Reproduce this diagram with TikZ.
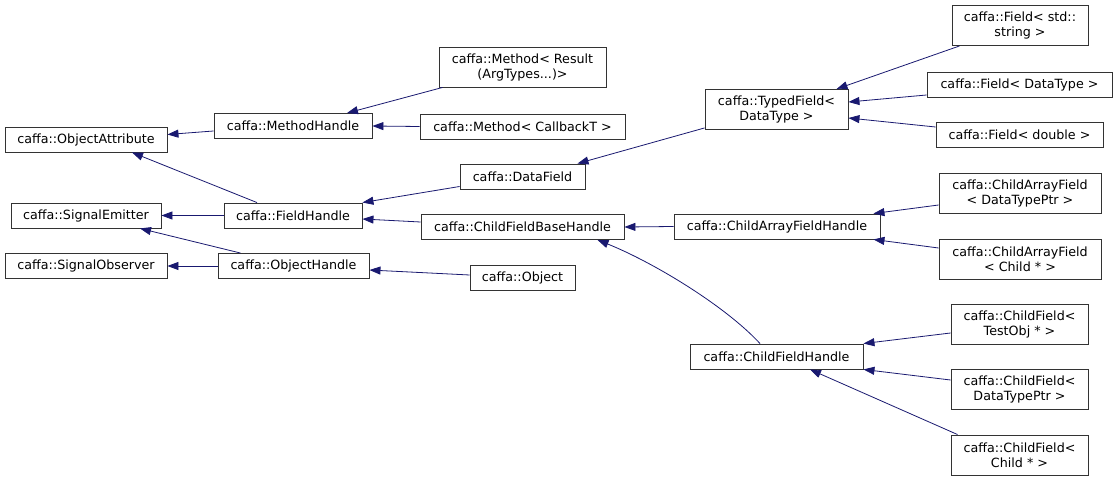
\documentclass[tikz,border=0pt]{standalone}
\usepackage{fontspec}
\setmainfont{DejaVu Sans}
\usetikzlibrary{arrows.meta}
\definecolor{navy}{HTML}{191970}

\begin{document}
\begin{tikzpicture}[x=1pt,y=-1pt,
  cls/.style={draw=black!80, line width=0.9pt, fill=white, inner sep=0pt,
    minimum height=25pt, align=center, font=\fontsize{12.7}{15}\selectfont},
  two/.style={minimum height=40pt},
  inh/.style={draw=navy, line width=0.8pt, {Triangle[length=11pt,width=8pt,fill=navy]}-}]
\useasboundingbox[fill=white] (0,0) rectangle (1117,481);

% first column
\node[cls, minimum width=162pt] (oa) at (86,139.5) {caffa::ObjectAttribute};
\node[cls, minimum width=150pt] (se) at (86,215.5) {caffa::SignalEmitter};
\node[cls, minimum width=162pt] (so) at (86,266) {caffa::SignalObserver};

% second column
\node[cls, minimum width=158pt] (mh) at (293,126) {caffa::MethodHandle};
\node[cls, minimum width=138pt] (fh) at (293,215.5) {caffa::FieldHandle};
\node[cls, minimum width=151pt] (oh) at (293.5,266) {caffa::ObjectHandle};

% third column
\node[cls, two, minimum width=167pt] (mr) at (522.5,67) {caffa::Method< Result\\(ArgTypes...)>};
\node[cls, minimum width=205pt] (mc) at (522.5,126.5) {caffa::Method< CallbackT >};
\node[cls, minimum width=125pt] (df) at (522.5,176.5) {caffa::DataField};
\node[cls, minimum width=203pt] (cfbh) at (522.5,227) {caffa::ChildFieldBaseHandle};
\node[cls, minimum width=105pt] (ob) at (522.5,277.5) {caffa::Object};

% fourth column
\node[cls, two, minimum width=143pt] (tf) at (776.5,109.5) {caffa::TypedField<\\DataType >};
\node[cls, minimum width=206pt] (cafh) at (777,226.5) {caffa::ChildArrayFieldHandle};
\node[cls, minimum width=173pt] (cfh) at (776.5,356.5) {caffa::ChildFieldHandle};

% fifth column
\node[cls, two, minimum width=136pt] (fs) at (1020,25.5) {caffa::Field< std::\\string >};
\node[cls, minimum width=185pt] (fd) at (1019.5,84.5) {caffa::Field< DataType >};
\node[cls, minimum width=167pt] (fdb) at (1019.5,135) {caffa::Field< double >};
\node[cls, two, minimum width=162pt] (cafp) at (1020,193) {caffa::ChildArrayField\\< DataTypePtr >};
\node[cls, two, minimum width=162pt] (cafc) at (1020,259) {caffa::ChildArrayField\\< Child * >};
\node[cls, two, minimum width=137pt] (cft) at (1019.5,324) {caffa::ChildField<\\TestObj * >};
\node[cls, two, minimum width=137pt] (cfd) at (1019.5,389) {caffa::ChildField<\\DataTypePtr >};
\node[cls, two, minimum width=137pt] (cfc) at (1019.5,455) {caffa::ChildField<\\Child * >};

% inheritance
\draw[inh] ([yshift=5pt]oa.east) -- ([yshift=-5pt]mh.west);
\draw[inh] ([xshift=46pt]oa.south) -- ([xshift=-36pt]fh.north);
\draw[inh] (se.east) -- (fh.west);
\draw[inh] ([xshift=54pt]se.south) -- ([xshift=-53pt]oh.north);
\draw[inh] (so.east) -- (oh.west);
\draw[inh] ([xshift=54pt]mh.north) -- ([xshift=4pt]mr.south west);
\draw[inh] (mh.east) -- (mc.west);
\draw[inh] (fh.north east) -- ([yshift=-10pt]df.west);
\draw[inh] ([yshift=-3.5pt]fh.east) -- ([yshift=5pt]cfbh.west);
\draw[inh] ([yshift=-4pt]oh.east) -- ([yshift=2.5pt]ob.west);
\draw[inh] ([xshift=55pt]df.north) -- ([yshift=2pt]tf.south west);
\draw[inh] (cfbh.east) -- (cafh.west);
\draw[inh] ([xshift=75pt]cfbh.south) .. controls +(55,22) and +(-35,-38) .. ([xshift=-16.5pt]cfh.north);
\draw[inh] ([xshift=60pt]tf.north) -- ([xshift=8pt]fs.south west);
\draw[inh] ([yshift=7.5pt]tf.east) -- ([yshift=-10.5pt]fd.west);
\draw[inh] ([yshift=-8.5pt]tf.east) -- ([yshift=8pt]fdb.west);
\draw[inh] ([xshift=-7pt]cafh.north east) -- ([yshift=-12pt]cafp.west);
\draw[inh] ([xshift=-7pt]cafh.south east) -- ([yshift=11pt]cafc.west);
\draw[inh] (cfh.north east) -- ([yshift=-9pt]cft.west);
\draw[inh] (cfh.south east) -- ([yshift=9pt]cfd.west);
\draw[inh] ([xshift=33.5pt]cfh.south) -- ([xshift=7pt]cfc.north west);
\end{tikzpicture}
\end{document}
